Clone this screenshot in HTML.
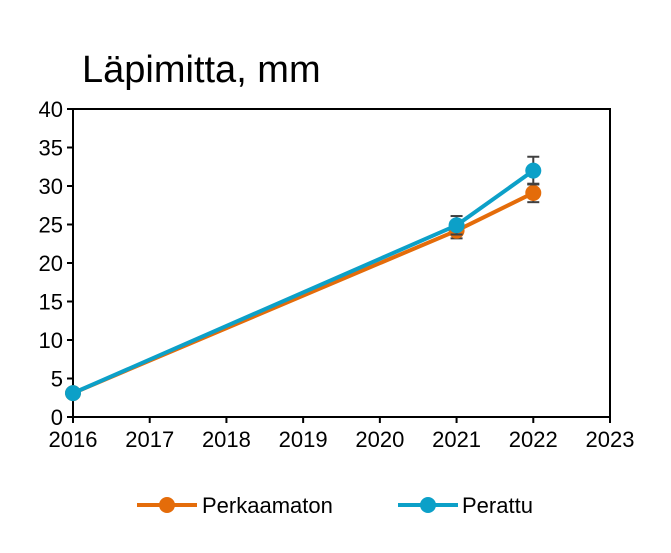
<!DOCTYPE html>
<html><head><meta charset="utf-8"><style>
body{margin:0;background:#fff;width:671px;height:548px;overflow:hidden}
svg text{font-family:"Liberation Sans",Arial,sans-serif;fill:#000}
</style></head><body>
<svg width="671" height="548">
<text x="82" y="82" font-size="38">Läpimitta, mm</text>
<g id="axes"></g><g id="series"></g>
<g>
<line x1="137" y1="505" x2="197" y2="505" stroke="#E46C0A" stroke-width="4"/>
<circle cx="167" cy="505" r="8" fill="#E46C0A"/>
<text x="202" y="513" font-size="22">Perkaamaton</text>
<line x1="398" y1="505" x2="458" y2="505" stroke="#0CA0C8" stroke-width="4"/>
<circle cx="428" cy="505" r="8" fill="#0CA0C8"/>
<text x="462" y="513" font-size="22">Perattu</text>
</g>
</svg>
<script>
const years=[2016,2021,2022];
const perkaamaton=[3.1,24.2,29.1];
const perkaamatonErr=[0,1.0,1.2];
const perattu=[3.1,24.9,32.0];
const perattuErr=[0,1.2,1.8];
const yTicks=[0,5,10,15,20,25,30,35,40];
const xTicks=[2016,2017,2018,2019,2020,2021,2022,2023];
const NS="http://www.w3.org/2000/svg";
const X0=73,X1=610,Y0=417,Y1=109;
const xs=v=>X0+(v-2016)/7*(X1-X0);
const ys=v=>Y0-v/40*(Y0-Y1);
function mk(t,a,p){const e=document.createElementNS(NS,t);for(const k in a)e.setAttribute(k,a[k]);p.appendChild(e);return e;}
const ax=document.getElementById('axes');
const box=mk('rect',{x:X0,y:Y1,width:X1-X0,height:Y0-Y1,fill:'none',stroke:'#000','stroke-width':2},ax);


yTicks.forEach(v=>{mk('line',{x1:X0-6,x2:X0,y1:ys(v),y2:ys(v),stroke:'#000','stroke-width':2},ax);
const t=mk('text',{x:X0-10,y:ys(v)+8,'font-size':22,'text-anchor':'end'},ax);t.textContent=v;

});
xTicks.forEach(v=>{mk('line',{x1:xs(v),x2:xs(v),y1:Y0,y2:Y0+6,stroke:'#000','stroke-width':2},ax);
const t=mk('text',{x:xs(v),y:Y0+30,'font-size':22,'text-anchor':'middle'},ax);t.textContent=v;

});
const sg=document.getElementById('series');
function series(vals,errs,col,name){
const g=mk('g',{},sg);


mk('polyline',{points:years.map((y,i)=>xs(y)+','+ys(vals[i])).join(' '),fill:'none',stroke:col,'stroke-width':4},g);
years.forEach((y,i)=>{const x=xs(y);
if(errs[i]>0){const a=ys(vals[i]+errs[i]),b=ys(vals[i]-errs[i]);
mk('line',{x1:x,x2:x,y1:a,y2:b,stroke:'#404040','stroke-width':2},g);
mk('line',{x1:x-6,x2:x+6,y1:a,y2:a,stroke:'#404040','stroke-width':2},g);
mk('line',{x1:x-6,x2:x+6,y1:b,y2:b,stroke:'#404040','stroke-width':2},g);}
const c=mk('circle',{cx:x,cy:ys(vals[i]),r:8,fill:col},g);

});}
series(perkaamaton,perkaamatonErr,'#E46C0A','series-perkaamaton');
series(perattu,perattuErr,'#0CA0C8','series-perattu');
</script>
</body></html>
